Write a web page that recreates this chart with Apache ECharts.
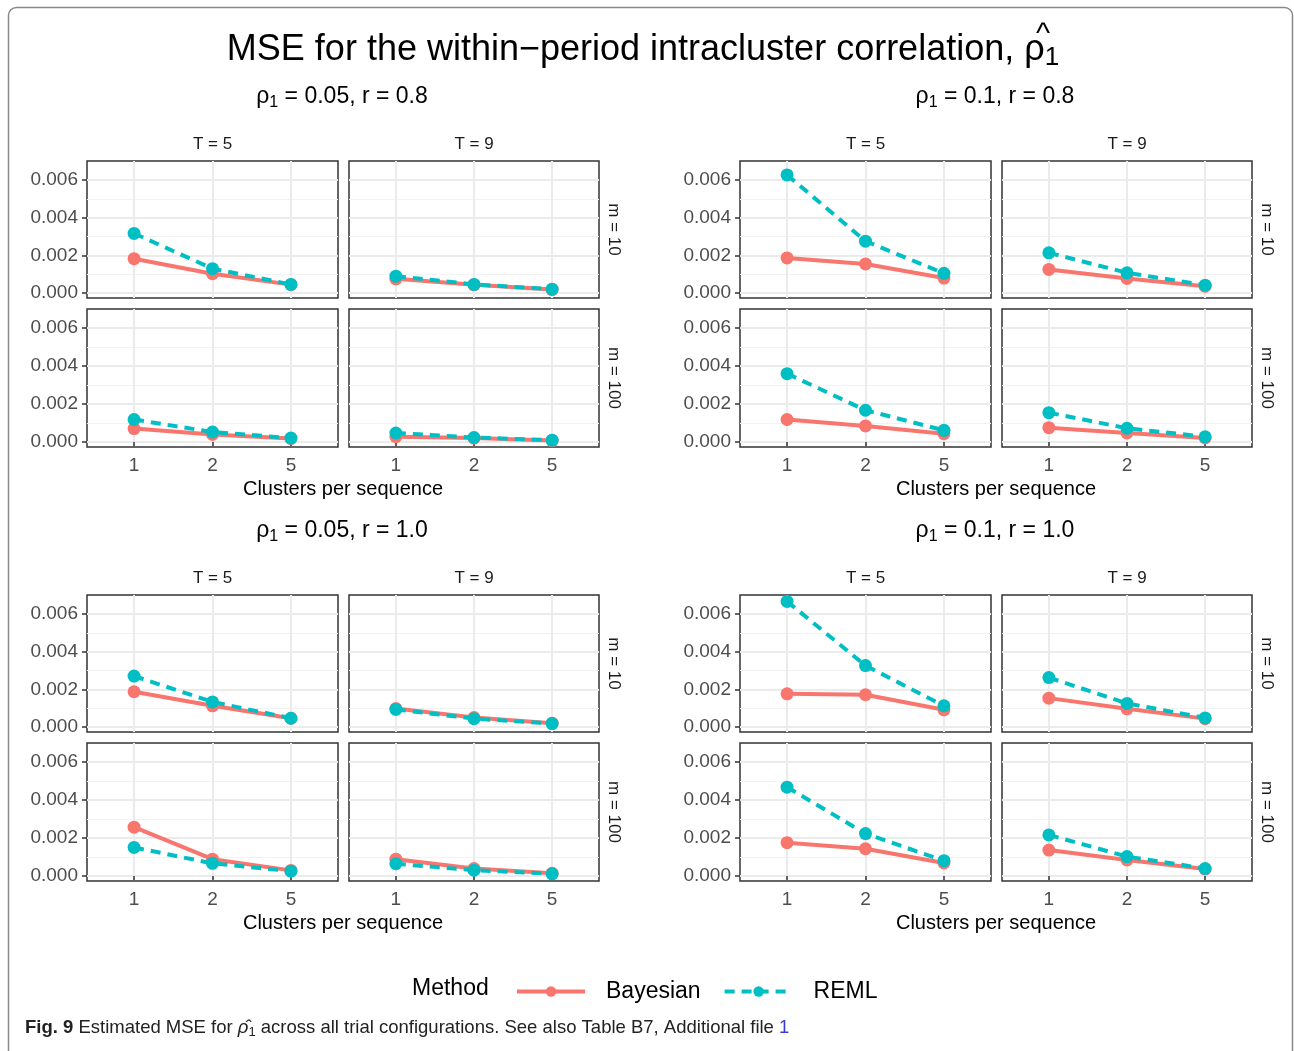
<!DOCTYPE html>
<html>
<head>
<meta charset="utf-8">
<script src="https://cdn.jsdelivr.net/npm/echarts@6/dist/echarts.min.js"></script>
<style>
html, body { margin: 0; padding: 0; background: #fff; }
#main { width: 1294px; height: 1051px; }
</style>
</head>
<body>
<div id="main"></div>
<script>
var clusterLabels = ['1', '2', '5'];
var yTicks = [0, 0.002, 0.004, 0.006];
var yMinor = [0.001, 0.003, 0.005];
var stripT = ['T = 5', 'T = 9'];
var stripM = ['m = 10', 'm = 100'];
var blockRho = ['0.05', '0.1', '0.05', '0.1'];
var blockR = ['0.8', '0.8', '1.0', '1.0'];

// panels in each block: T5 m10, T9 m10, T5 m100, T9 m100
var bayes_rho005_r08 = [[0.00182, 0.00102, 0.00044], [0.00075, 0.00043, 0.00018], [0.00070, 0.00039, 0.00018], [0.00027, 0.00020, 0.00007]];
var reml_rho005_r08 = [[0.00316, 0.00129, 0.00045], [0.00089, 0.00045, 0.00020], [0.00118, 0.00052, 0.00020], [0.00047, 0.00023, 0.00009]];
var bayes_rho01_r08 = [[0.00186, 0.00154, 0.00079], [0.00125, 0.00077, 0.00036], [0.00118, 0.00084, 0.00043], [0.00075, 0.00047, 0.00021]];
var reml_rho01_r08 = [[0.00627, 0.00275, 0.00104], [0.00213, 0.00107, 0.00041], [0.00360, 0.00167, 0.00061], [0.00154, 0.00072, 0.00027]];
var bayes_rho005_r10 = [[0.00187, 0.00112, 0.00046], [0.00098, 0.00050, 0.00020], [0.00257, 0.00088, 0.00029], [0.00088, 0.00039, 0.00014]];
var reml_rho005_r10 = [[0.00270, 0.00133, 0.00046], [0.00093, 0.00044, 0.00018], [0.00150, 0.00066, 0.00025], [0.00064, 0.00030, 0.00011]];
var bayes_rho01_r10 = [[0.00176, 0.00171, 0.00091], [0.00153, 0.00096, 0.00044], [0.00175, 0.00143, 0.00068], [0.00136, 0.00084, 0.00036]];
var reml_rho01_r10 = [[0.00667, 0.00326, 0.00112], [0.00262, 0.00125, 0.00048], [0.00468, 0.00223, 0.00080], [0.00216, 0.00102, 0.00039]];

var bayesBlocks = [bayes_rho005_r08, bayes_rho01_r08, bayes_rho005_r10, bayes_rho01_r10];
var remlBlocks = [reml_rho005_r08, reml_rho01_r08, reml_rho005_r10, reml_rho01_r10];

var FONT = '"Liberation Sans", Arial, Helvetica, sans-serif';
var CAPFONT = '"Liberation Sans", sans-serif';
var RED = '#F8766D', TEAL = '#00BFC4';
var YMIN = -0.00027, YMAX = 0.00701;

var dom = document.getElementById('main');
var myChart = echarts.init(dom);

var grids = [], xAxes = [], yAxes = [], series = [], graphics = [];

// frame of the figure
graphics.push({
    type: 'rect', shape: { x: 8.5, y: 7.5, width: 1284, height: 1100, r: 8 },
    style: { fill: 'none', stroke: '#888', lineWidth: 1.5 }, z: 0
});
graphics.push({
    type: 'text', x: 643, y: 50,
    style: { text: 'MSE for the within\u2212period intracluster correlation, \u03c1{s|1}', font: '36px ' + FONT, fill: '#000',
        align: 'center', verticalAlign: 'middle',
        rich: { s: { fontSize: 26, fontFamily: FONT, padding: [15, 0, 0, 0] } } }
});
graphics.push({
    type: 'text', x: 1043, y: 35,
    style: { text: '^', font: '30px ' + FONT, fill: '#000', align: 'center', verticalAlign: 'middle' }
});

var colLeft = [87, 349], colWidth = [251, 250];
var rowTop = [161, 309], rowHeight = [137, 138];

for (var b = 0; b < 4; b++) {
    var bx = (b % 2) * 653, by = Math.floor(b / 2) * 434;
    // block subtitle
    graphics.push({
        type: 'text', x: 342 + bx, y: 97 + by,
        style: { text: '\u03c1{s|1} = ' + blockRho[b] + ', r = ' + blockR[b], font: '23px ' + FONT, fill: '#000',
            align: 'center', verticalAlign: 'middle',
            rich: { s: { fontSize: 16, fontFamily: FONT, padding: [11, 0, 0, 0] } } }
    });
    graphics.push({
        type: 'text', x: 343 + bx, y: 489 + by,
        style: { text: 'Clusters per sequence', font: '20px ' + FONT, fill: '#000', align: 'center', verticalAlign: 'middle' }
    });
    for (var c = 0; c < 2; c++) {
        graphics.push({
            type: 'text', x: colLeft[c] + bx + colWidth[c] / 2, y: 144 + by,
            style: { text: stripT[c], font: '17px ' + FONT, fill: '#1a1a1a', align: 'center', verticalAlign: 'middle' }
        });
    }
    for (var rr = 0; rr < 2; rr++) {
        graphics.push({
            type: 'text', x: 614 + bx, y: rowTop[rr] + by + rowHeight[rr] / 2, rotation: -Math.PI / 2,
            style: { text: stripM[rr], font: '17px ' + FONT, fill: '#1a1a1a', align: 'center', verticalAlign: 'middle' }
        });
    }
    for (var p = 0; p < 4; p++) {
        var col = p % 2, row = Math.floor(p / 2);
        var g = b * 4 + p;
        grids.push({
            left: colLeft[col] + bx, top: rowTop[row] + by, width: colWidth[col], height: rowHeight[row],
            show: true, borderColor: '#333', borderWidth: 1.5, backgroundColor: 'transparent'
        });
        xAxes.push({
            type: 'value', gridIndex: g, min: 0.4, max: 3.6,
            axisLine: { show: false },
            axisTick: { show: row === 1, length: 5, lineStyle: { color: '#333', width: 1.5 }, customValues: [1, 2, 3] },
            axisLabel: { show: row === 1, customValues: [1, 2, 3], color: '#4d4d4d', fontSize: 19, fontFamily: FONT, margin: 9,
                formatter: function (v) { return clusterLabels[Math.round(v) - 1]; } },
            splitLine: { show: true, lineStyle: { color: '#ebebeb', width: 2 } }
        });
        yAxes.push({
            type: 'value', gridIndex: g, min: YMIN, max: YMAX,
            axisLine: { show: false },
            axisTick: { show: col === 0, length: 5, lineStyle: { color: '#333', width: 1.5 }, customValues: yTicks },
            axisLabel: { show: col === 0, customValues: yTicks, color: '#4d4d4d', fontSize: 19, fontFamily: FONT, margin: 9,
                formatter: function (v) { return v.toFixed(3); } },
            splitLine: { show: true, lineStyle: { color: '#ebebeb', width: 2 } }
        });
        yAxes.push({
            type: 'value', gridIndex: g, min: YMIN, max: YMAX, position: 'left',
            axisLine: { show: false },
            axisTick: { show: false, customValues: yMinor },
            axisLabel: { show: false, customValues: yMinor },
            splitLine: { show: true, lineStyle: { color: '#f2f2f2', width: 1 } }
        });
        var bay = bayesBlocks[b][p], rem = remlBlocks[b][p];
        series.push({
            name: 'Bayesian', type: 'line', xAxisIndex: g, yAxisIndex: 2 * g,
            data: bay.map(function (v, i) { return [i + 1, v]; }),
            symbol: 'circle', symbolSize: 13, itemStyle: { color: RED },
            lineStyle: { color: RED, width: 4 }, z: 3
        });
        series.push({
            name: 'REML', type: 'line', xAxisIndex: g, yAxisIndex: 2 * g,
            data: rem.map(function (v, i) { return [i + 1, v]; }),
            symbol: 'circle', symbolSize: 13, itemStyle: { color: TEAL },
            lineStyle: { color: TEAL, width: 4, type: [10, 7] }, z: 4
        });
    }
}

// legend title and caption
graphics.push({
    type: 'text', x: 412, y: 989,
    style: { text: 'Method', font: '23px ' + FONT, fill: '#000', align: 'left', verticalAlign: 'middle' }
});
graphics.push({
    type: 'text', x: 25, y: 1028,
    style: {
        text: '{b|Fig. 9} Estimated MSE for {i|\u03c1\u0302}{s|1} across all trial configurations. See also Table B7, Additional file {l|1}',
        font: '18.5px ' + CAPFONT, fill: '#222', align: 'left', verticalAlign: 'middle',
        rich: {
            b: { fontWeight: 'bold', fontSize: 18.5, fontFamily: CAPFONT, fill: '#222' },
            i: { fontStyle: 'italic', fontSize: 18.5, fontFamily: CAPFONT, fill: '#222' },
            s: { fontSize: 13, fontFamily: CAPFONT, fill: '#222', padding: [8, 0, 0, 0] },
            l: { fontSize: 18.5, fontFamily: CAPFONT, fill: '#3b3bd6' }
        }
    }
});

var option = {
    animation: false,
    backgroundColor: '#fff',
    grid: grids,
    xAxis: xAxes,
    yAxis: yAxes,
    series: series,
    legend: {
        data: ['Bayesian', 'REML'],
        left: 510, top: 975,
        itemWidth: 68, itemHeight: 13, itemGap: 22,
        lineStyle: { width: 4 },
        textStyle: { fontSize: 23, fontFamily: FONT, color: '#000', padding: [0, 0, 0, 16] },
        selectedMode: false
    },
    graphic: graphics
};
if (option && typeof option === "object") {
    myChart.setOption(option, true);
}
</script>
</body>
</html>
